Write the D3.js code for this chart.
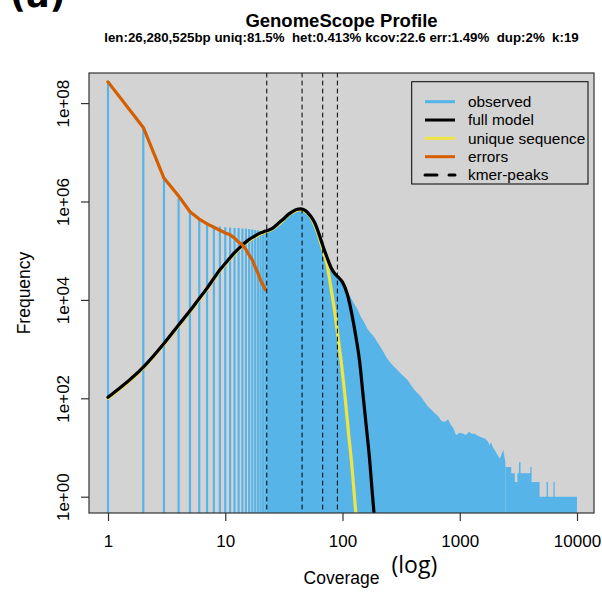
<!DOCTYPE html>
<html><head><meta charset="utf-8">
<script src="https://cdn.jsdelivr.net/npm/d3@7"></script>
<style>body{margin:0;background:#fff}svg{display:block}</style>
</head><body>
<svg id="c" width="602" height="592"></svg>
<script>
// ---------- data ----------
const xTickValues = [1, 10, 100, 1000, 10000];
const xTickLabels = ["1", "10", "100", "1000", "10000"];
const yTickValues = [1, 1e2, 1e4, 1e6, 1e8];
const yTickLabels = ["1e+00", "1e+02", "1e+04", "1e+06", "1e+08"];
const kmerPeaks = [22.6, 45.2, 67.8, 90.4];

// observed histogram: separate bars at low coverage
const obsBarCov  = [1,2,3,4,5,6,7,8,9,10,11,12,13,14,15,16,17,18,19,20,21,22];
const obsBarFreq = [2.7e8,3.2e7,3.0e6,1.16e6,5.8e5,4.2e5,3.6e5,3.2e5,3.1e5,3.0e5,2.95e5,2.9e5,2.88e5,2.82e5,2.79e5,2.75e5,2.69e5,2.63e5,2.57e5,2.51e5,2.45e5,2.45e5];
// observed histogram: dense region (visible envelope of the merged bars)
const obsMidCov  = [22.5,25,28,31,35,40,44,48,53,58,63,68,74,80,86,92,100,110,117,125,135,143,153,163,175,185,198,211,225,240,257,275,295,314,335,359,385,410,440,466,500,535,570,610,650,695,740,795,840,880,930,1000,1070,1130,1200,1260,1340,1450,1550,1650,1750,1800,1850,1920,1980,2100,2200,2350,2450];
const obsMidFreq = [2.45e5,2.7e5,3.3e5,4.1e5,5.4e5,6.5e5,6.9e5,6.5e5,5.1e5,3.5e5,2.1e5,1.2e5,7.1e4,4.4e4,3.3e4,2.8e4,2.3e4,1.4e4,1.15e4,8.5e3,6.2e3,4.6e3,3.5e3,2.6e3,2.1e3,1.8e3,1.4e3,1.1e3,850,650,525,440,370,320,275,235,185,150,125,107,85,68,59,50,44,35,33,37,29,25,18,20,19,18,21,19,19,17,16,15,13,11,13,10,9,7,6,9,5];
// observed histogram: far tail (small integer counts, step-like)
const obsTailCov  = [2450,2650,2750,2950,3100,3200,3300,4000,4100,4800,5500,5650,6300,6450,10000.5];
const obsTailFreq = [4,4,3,2,3,5,3,4,2,1,2,1,2,1,1];

const fullCov  = [1,2,3,4,5,6,7,8,9,10,12,14,16,18,20,22,25,28,31,35,40,44,48,53,58,63,68,74,80,86,92,100,110,120,130,140,150,160,170,180,190];
const fullFreq = [105,430,1.3e3,3.1e3,6.0e3,1.07e4,1.74e4,2.75e4,4.1e4,5.5e4,9.1e4,1.3e5,1.7e5,2.0e5,2.3e5,2.5e5,2.8e5,3.5e5,4.3e5,5.6e5,6.8e5,7.1e5,6.6e5,5.2e5,3.7e5,2.2e5,1.26e5,7.2e4,4.5e4,3.4e4,2.9e4,2.3e4,1.3e4,5.2e3,1.8e3,560,112,25,6,1.1,0.25];

const uniqueCov  = [1,2,3,4,5,6,7,8,9,10,12,14,16,18,20,22,25,28,31,35,40,44,48,53,58,63,68,74,80,86,92,98,105,112,120,130,136];
const uniqueFreq = [100,410,1.26e3,2.95e3,5.75e3,1.02e4,1.66e4,2.63e4,3.9e4,5.25e4,8.7e4,1.26e5,1.62e5,1.9e5,2.2e5,2.4e5,2.7e5,3.3e5,4.1e5,5.4e5,6.5e5,6.8e5,6.3e5,5.0e5,3.3e5,1.9e5,1.05e5,5.0e4,1.66e4,5.6e3,1.6e3,500,112,22,4.5,0.46,0.15];

const errorCov  = [1,2,3,4,5,6,7,8,9,10,11,12,13,14,15,16,17,18,19,20,21,22];
const errorFreq = [2.7e8,3.2e7,3.0e6,1.3e6,6.2e5,4.4e5,3.5e5,3.0e5,2.6e5,2.3e5,2.1e5,1.8e5,1.5e5,1.3e5,1.07e5,8.1e4,6.5e4,4.7e4,3.5e4,2.5e4,2.0e4,1.6e4];

const legendLabels = ["observed", "full model", "unique sequence", "errors", "kmer-peaks"];
const legendColors = ["#56B4E9", "#000000", "#F0E442", "#D55E00", "#000000"];

// ---------- layout ----------
const P = {left: 89, right: 594, top: 73, bottom: 513};
const FONT = "'Liberation Sans', Arial, Helvetica, sans-serif";
const svg = d3.select("#c");

const x = d3.scaleLog().domain([1, 10000]).range([108, 577]);
const y = d3.scaleLog().domain([1, 1e8]).range([496.7, 103.1]);

svg.append("defs").append("clipPath").attr("id", "clip")
  .append("rect").attr("x", P.left).attr("y", P.top)
  .attr("width", P.right - P.left).attr("height", P.bottom - P.top);

svg.append("rect").attr("x", P.left).attr("y", P.top)
  .attr("width", P.right - P.left).attr("height", P.bottom - P.top)
  .attr("fill", "#d3d3d3");

const g = svg.append("g").attr("clip-path", "url(#clip)");

// observed bars
const bars = obsBarCov.map((c, i) => ({cov: c, freq: obsBarFreq[i]}));
g.selectAll("line.bar").data(bars).enter().append("line")
  .attr("class", "bar")
  .attr("x1", d => x(d.cov)).attr("x2", d => x(d.cov))
  .attr("y1", P.bottom + 2).attr("y2", d => y(d.freq))
  .attr("stroke", "#56B4E9").attr("stroke-width", 2.2);

// observed dense region
function denseArea(covs, freqs, crv) {
  g.append("path").datum(covs.map((c, i) => ({cov: c, freq: freqs[i]})))
    .attr("d", d3.area().x(d => x(d.cov)).y0(P.bottom + 2).y1(d => y(d.freq)).curve(crv))
    .attr("fill", "#56B4E9");
}
denseArea(obsMidCov, obsMidFreq, d3.curveLinear);
denseArea(obsTailCov, obsTailFreq, d3.curveStepAfter);

function curve(covs, freqs, color, crv) {
  g.append("path").datum(covs.map((c, i) => ({cov: c, freq: freqs[i]})))
    .attr("d", d3.line().x(d => x(d.cov)).y(d => y(d.freq)).curve(crv))
    .attr("fill", "none").attr("stroke", color)
    .attr("stroke-width", 3.2).attr("stroke-linecap", "round").attr("stroke-linejoin", "round");
}
curve(uniqueCov, uniqueFreq, "#F0E442", d3.curveMonotoneX);
curve(fullCov, fullFreq, "#000000", d3.curveMonotoneX);
curve(errorCov, errorFreq, "#D55E00", d3.curveLinear);

// kmer peaks
g.selectAll("line.peak").data(kmerPeaks).enter().append("line")
  .attr("x1", d => x(d)).attr("x2", d => x(d))
  .attr("y1", P.top).attr("y2", P.bottom)
  .attr("stroke", "#000").attr("stroke-width", 1)
  .attr("stroke-dasharray", "4,4").attr("stroke-linecap", "round");

// box
svg.append("rect").attr("x", P.left).attr("y", P.top)
  .attr("width", P.right - P.left).attr("height", P.bottom - P.top)
  .attr("fill", "none").attr("stroke", "#333").attr("stroke-width", 1.2);

// axes
const xAxis = d3.axisBottom(x).tickValues(xTickValues)
  .tickFormat((d, i) => xTickLabels[i]).tickSize(8).tickPadding(13.5).tickSizeOuter(0);
const gx = svg.append("g").attr("transform", `translate(0,${P.bottom})`).call(xAxis);
gx.select(".domain").remove();
gx.selectAll("line").attr("stroke", "#333").attr("stroke-width", 1.2);
gx.selectAll("text").attr("font-family", FONT).attr("font-size", 17).attr("fill", "#000");

const yAxis = d3.axisLeft(y).tickValues(yTickValues)
  .tickFormat((d, i) => yTickLabels[i]).tickSize(8).tickSizeOuter(0);
const gy = svg.append("g").attr("transform", `translate(${P.left},0)`).call(yAxis);
gy.select(".domain").remove();
gy.selectAll("line").attr("stroke", "#333").attr("stroke-width", 1.2);
gy.selectAll("text").attr("font-family", FONT).attr("font-size", 17).attr("fill", "#000")
  .attr("transform", "rotate(-90)").attr("x", 0).attr("y", -20).attr("dy", 0)
  .attr("text-anchor", "middle");

// axis titles
svg.append("text").attr("x", (P.left + P.right) / 2).attr("y", 583.5)
  .attr("text-anchor", "middle").attr("font-family", FONT).attr("font-size", 17.5)
  .text("Coverage");
svg.append("text").attr("transform", `translate(29.5,${(P.top + P.bottom) / 2}) rotate(-90)`)
  .attr("text-anchor", "middle").attr("font-family", FONT).attr("font-size", 17.5)
  .text("Frequency");
svg.append("text").attr("x", 391.5).attr("y", 572.5)
  .attr("font-family", "'Open Sans', sans-serif").attr("font-size", 23)
  .text("(log)");

// titles
svg.append("text").attr("x", 341.5).attr("y", 26.5).attr("text-anchor", "middle")
  .attr("font-family", FONT).attr("font-weight", "bold").attr("font-size", 18.5)
  .text("GenomeScope Profile");
svg.append("text").attr("x", 341.5).attr("y", 42.3).attr("text-anchor", "middle")
  .attr("font-family", FONT).attr("font-weight", "bold").attr("font-size", 13.3)
  .attr("xml:space", "preserve").style("white-space", "pre")
  .text("len:26,280,525bp uniq:81.5%  het:0.413% kcov:22.6 err:1.49%  dup:2%  k:19");

// panel label (cut off at the top edge, as in the original)
svg.append("text").attr("x", 10).attr("y", 7)
  .attr("font-family", "'DejaVu Sans', sans-serif").attr("font-weight", "bold").attr("font-size", 35)
  .text("(a)");

// legend
const L = {x: 411.7, y: 81.7, w: 176.3, h: 102.3, row0: 101.7, dy: 18.33};
svg.append("rect").attr("x", L.x).attr("y", L.y).attr("width", L.w).attr("height", L.h)
  .attr("fill", "none").attr("stroke", "#000").attr("stroke-width", 1);
legendLabels.forEach((lab, i) => {
  const yy = L.row0 + i * L.dy;
  const ln = svg.append("line").attr("x1", 425).attr("x2", 455).attr("y1", yy).attr("y2", yy)
    .attr("stroke", legendColors[i]).attr("stroke-width", 3);
  if (i === 4) ln.attr("stroke-dasharray", "12,12").attr("stroke-linecap", "round");
  svg.append("text").attr("x", 468).attr("y", yy + 5.3)
    .attr("font-family", FONT).attr("font-size", 15.4).text(lab);
});
</script>
</body></html>
